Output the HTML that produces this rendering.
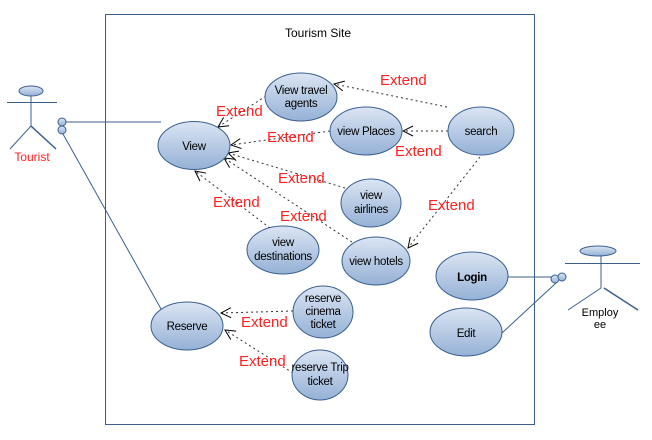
<!DOCTYPE html>
<html><head><meta charset="utf-8"><style>
html,body{margin:0;padding:0;background:#fff;}
svg{display:block;}
text{font-family:"Liberation Sans",Arial,sans-serif;}
</style></head><body>
<svg width="652" height="440" viewBox="0 0 652 440" xmlns="http://www.w3.org/2000/svg">
<defs>
<linearGradient id="g" x1="0" y1="0" x2="0" y2="1">
<stop offset="0" stop-color="#dbe5f3"/><stop offset="1" stop-color="#95b1d6"/>
</linearGradient>
<marker id="a" markerWidth="12" markerHeight="12" refX="11" refY="6" orient="auto" markerUnits="userSpaceOnUse">
<path d="M1,1 L11,6 L1,11" fill="none" stroke="#000" stroke-width="1"/>
</marker>
</defs>
<rect x="105.5" y="14.5" width="429" height="410" fill="none" stroke="#3a5f8f" stroke-width="1"/>
<text x="318" y="37" font-size="12" text-anchor="middle">Tourism Site</text>

<g stroke="#3a5f8f" stroke-width="1" fill="none">
<line x1="66" y1="122" x2="161" y2="122"/>
<line x1="63" y1="134" x2="165" y2="316"/>
<line x1="508" y1="277" x2="553" y2="277"/>
<line x1="502" y1="333" x2="556" y2="283"/>
</g>

<g stroke="#333" stroke-width="1" stroke-dasharray="2,3" fill="none">
<line x1="447" y1="107" x2="334" y2="84" marker-end="url(#a)"/>
<line x1="448" y1="131" x2="403" y2="131" marker-end="url(#a)"/>
<line x1="480" y1="157" x2="408" y2="248" marker-end="url(#a)"/>
<line x1="266" y1="96" x2="218" y2="127" marker-end="url(#a)"/>
<line x1="330" y1="131" x2="231" y2="145" marker-end="url(#a)"/>
<line x1="345" y1="188" x2="228" y2="153" marker-end="url(#a)"/>
<line x1="352" y1="242" x2="224" y2="158" marker-end="url(#a)"/>
<line x1="270" y1="228" x2="195" y2="171" marker-end="url(#a)"/>
<line x1="293" y1="311" x2="221" y2="313" marker-end="url(#a)"/>
<line x1="293" y1="373" x2="225" y2="330" marker-end="url(#a)"/>
</g>

<g fill="url(#g)" stroke="#3a5f8f" stroke-width="1">
<ellipse cx="194" cy="145.5" rx="36" ry="24"/>
<ellipse cx="301" cy="97" rx="36" ry="24"/>
<ellipse cx="366" cy="131" rx="36" ry="24"/>
<ellipse cx="481" cy="131" rx="33" ry="24"/>
<ellipse cx="371" cy="203" rx="30" ry="24"/>
<ellipse cx="283" cy="250" rx="36" ry="24"/>
<ellipse cx="376" cy="261" rx="34" ry="24"/>
<ellipse cx="472" cy="276" rx="36" ry="24"/>
<ellipse cx="466" cy="332" rx="36" ry="24"/>
<ellipse cx="187" cy="326" rx="36" ry="24"/>
<ellipse cx="323" cy="312" rx="30" ry="26"/>
<ellipse cx="320" cy="375" rx="28" ry="25"/>
</g>
<g font-size="11.5" text-anchor="middle" fill="#000" letter-spacing="-0.3">
<text x="194" y="150">View</text>
<text x="301" y="94">View travel</text><text x="301" y="107">agents</text>
<text x="366" y="135">view Places</text>
<text x="481" y="135">search</text>
<text x="371" y="199">view</text><text x="371" y="213">airlines</text>
<text x="283" y="246">view</text><text x="283" y="260">destinations</text>
<text x="376" y="265">view hotels</text>
<text x="472" y="281" font-weight="bold">Login</text>
<text x="466" y="337">Edit</text>
<text x="187" y="330">Reserve</text>
<text x="323" y="302">reserve</text><text x="323" y="315">cinema</text><text x="323" y="328">ticket</text>
<text x="320" y="371">reserve Trip</text><text x="320" y="385">ticket</text>
</g>

<g font-size="15" fill="#ff2020">
<text x="380" y="85">Extend</text>
<text x="216" y="116">Extend</text>
<text x="267" y="142">Extend</text>
<text x="395" y="156">Extend</text>
<text x="278" y="183">Extend</text>
<text x="213" y="207">Extend</text>
<text x="280" y="221">Extend</text>
<text x="428" y="210">Extend</text>
<text x="241" y="327">Extend</text>
<text x="239" y="366">Extend</text>
</g>

<g stroke="#3a5f8f" stroke-width="1" fill="none">
<ellipse cx="31" cy="91" rx="12" ry="5" fill="url(#g)"/>
<line x1="7" y1="102.5" x2="57" y2="102.5"/>
<line x1="31" y1="96" x2="31" y2="126"/>
<line x1="31" y1="126" x2="10" y2="149"/>
<line x1="31" y1="126" x2="56" y2="149" stroke-width="1.5"/>
<circle cx="62" cy="122" r="4" fill="url(#g)"/>
<circle cx="62" cy="130" r="4" fill="url(#g)"/>
</g>
<text x="32" y="161" font-size="12" fill="#ff2020" text-anchor="middle">Tourist</text>

<g stroke="#3a5f8f" stroke-width="1" fill="none">
<ellipse cx="598" cy="251" rx="18" ry="5" fill="url(#g)"/>
<line x1="565" y1="263.5" x2="640" y2="263.5"/>
<line x1="601" y1="256" x2="601" y2="288"/>
<line x1="601" y1="288" x2="568" y2="310"/>
<line x1="604" y1="288" x2="638" y2="310" stroke-width="1.5"/>
<circle cx="555" cy="279" r="4" fill="url(#g)"/>
<circle cx="562" cy="277" r="4" fill="url(#g)"/>
</g>
<text x="600" y="316" font-size="11" text-anchor="middle">Employ</text>
<text x="600" y="328" font-size="11" text-anchor="middle">ee</text>
</svg>
</body></html>
